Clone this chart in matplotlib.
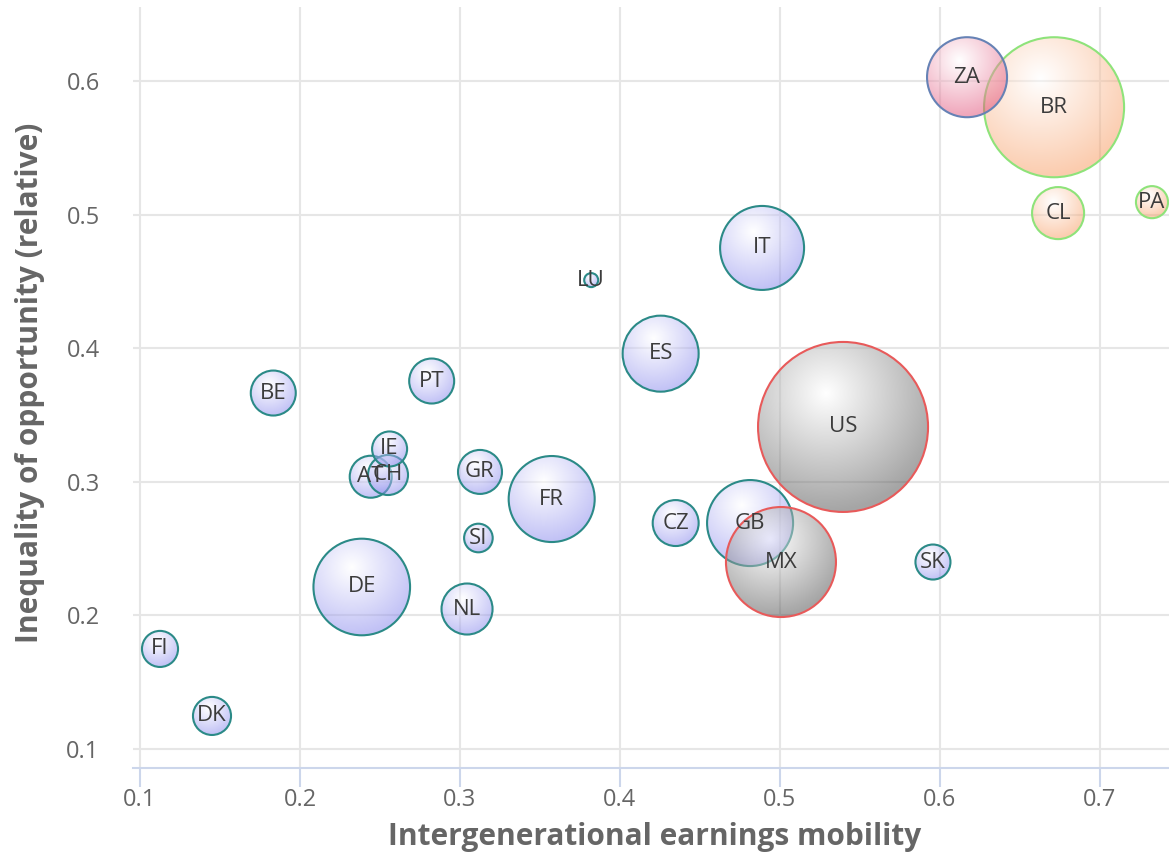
import numpy as np
import matplotlib
matplotlib.use('Agg')
import matplotlib.pyplot as plt
from matplotlib.patches import Ellipse
from matplotlib.colors import to_rgb

# country data: mobility (x), inequality of opportunity (y), bubble size z
countries = ['FI', 'DK', 'BE', 'AT', 'CH', 'IE', 'PT', 'GR', 'SI', 'NL', 'DE', 'FR',
             'LU', 'ES', 'CZ', 'IT', 'GB', 'SK',
             'BR', 'CL', 'PA',
             'US', 'MX',
             'ZA']
mobility = [0.1125, 0.145, 0.1833, 0.2442, 0.255, 0.256, 0.2823, 0.3125, 0.3115, 0.3044, 0.2386, 0.3573,
            0.382, 0.4254, 0.4348, 0.4888, 0.4813, 0.5956,
            0.6713, 0.6738, 0.7325,
            0.5394, 0.5006,
            0.6169]
inequality = [0.1747, 0.1245, 0.3664, 0.3037, 0.305, 0.3245, 0.3754, 0.3073, 0.2578, 0.2046, 0.2211, 0.287,
              0.451, 0.3959, 0.269, 0.4751, 0.269, 0.2398,
              0.5805, 0.5012, 0.5094,
              0.341, 0.2398,
              0.603]
size_z = [6.9, 8.1, 13.1, 10.8, 9.4, 6.3, 13.1, 12.3, 3.3, 18.5, 90.1, 68.6,
          0.5, 51.0, 13.9, 64.8, 68.6, 6.3,
          209.0, 19.5, 4.8,
          320.0, 121.5,
          57.7]
group = ['eu'] * 18 + ['latam'] * 3 + ['na'] * 2 + ['za']

# fill base colour, edge colour per group
styles = {
    'eu': ('#8484ec', '#2b8a87'),
    'latam': ('#f7995e', '#8ee37a'),
    'na': ('#4a4a4a', '#e85a5a'),
    'za': ('#e04a74', '#6682b5'),
}

W, H = 1169, 867
fig = plt.figure(figsize=(W / 100, H / 100), dpi=100)
ax_l, ax_r, ax_t, ax_b = 133, 1169, 7, 768
ax = fig.add_axes([ax_l / W, 1 - ax_b / H, (ax_r - ax_l) / W, (ax_b - ax_t) / H])

xmin, xmax = 0.095625, 0.743125
ymin, ymax = 0.0855, 0.6556
ax.set_xlim(xmin, xmax)
ax.set_ylim(ymin, ymax)

px_x = (ax_r - ax_l) / (xmax - xmin)
px_y = (ax_b - ax_t) / (ymax - ymin)

grid_c = '#e6e6e6'
ax.set_xticks([0.1, 0.2, 0.3, 0.4, 0.5, 0.6, 0.7])
ax.set_yticks([0.1, 0.2, 0.3, 0.4, 0.5, 0.6])
ax.grid(True, color=grid_c, lw=1.5, zorder=0)
ax.set_axisbelow(True)
for s in ['top', 'right', 'left']:
    ax.spines[s].set_visible(False)
ax.spines['bottom'].set_color('#ccd6eb')
ax.spines['bottom'].set_linewidth(1.5)
ax.tick_params(axis='x', length=13.5, width=1.5, color='#ccd6eb', pad=1,
               labelsize=17, labelcolor='#666666')
ax.tick_params(axis='y', length=0, pad=24, labelsize=17, labelcolor='#666666')
for lab in ax.get_xticklabels() + ax.get_yticklabels():
    lab.set_fontfamily('Open Sans')

zs = np.array(size_z)
zmin, zmax = zs.min(), zs.max()
rmin, rmax = 7.0, 85.0


def radius(z):
    return rmin + (rmax - rmin) * np.sqrt((z - zmin) / (zmax - zmin))


n = 160
u = np.linspace(-1, 1, n)
U, V = np.meshgrid(u, u)
# highlight towards upper left, like a radial gradient cx .4 cy .3 r .7
T = np.clip(np.sqrt((U + 0.2) ** 2 + (V - 0.4) ** 2) / 1.4, 0, 1)

order = ['eu', 'latam', 'na', 'za']
z = 2
for g in order:
    base, edge = styles[g]
    b = np.array(to_rgb(base))
    img = np.zeros((n, n, 4))
    for c in range(3):
        img[..., c] = (1 - T) * 1.0 + T * b[c]
    img[..., 3] = 0.5
    for i, cc in enumerate(countries):
        if group[i] != g:
            continue
        r = radius(size_z[i])
        cx, cy = mobility[i], inequality[i]
        w, h = 2 * r / px_x, 2 * r / px_y
        clip = Ellipse((cx, cy), w, h, transform=ax.transData)
        im = ax.imshow(img, extent=[cx - w / 2, cx + w / 2, cy - h / 2, cy + h / 2],
                       origin='lower', interpolation='bilinear', zorder=z, aspect='auto')
        im.set_clip_path(clip)
        ax.add_patch(Ellipse((cx, cy), w, h, fill=False, edgecolor=edge, lw=1.5, zorder=z + 0.5))
        z += 1

for i, cc in enumerate(countries):
    ax.text(mobility[i], inequality[i], cc, ha='center', va='center', fontsize=16,
            color='#3c3c3c', family='Open Sans', zorder=200)

ax.set_xlim(xmin, xmax)
ax.set_ylim(ymin, ymax)

fig.text(655 / W, 1 - 837 / H, 'Intergenerational earnings mobility', ha='center', va='center',
         fontsize=21.5, fontweight='bold', color='#666666', family='Open Sans')
fig.text(30 / W, 1 - 383 / H, 'Inequality of opportunity (relative)', ha='center', va='center',
         rotation=90, fontsize=21.5, fontweight='bold', color='#666666', family='Open Sans')

fig.savefig('out.png', dpi=100)
